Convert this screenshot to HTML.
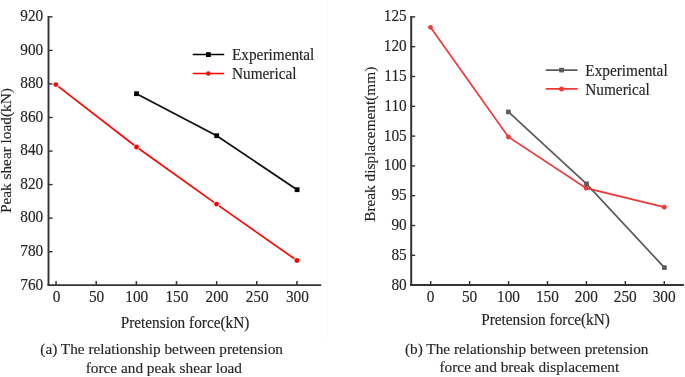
<!DOCTYPE html>
<html><head><meta charset="utf-8"><style>
html,body{margin:0;padding:0;background:#fff;width:685px;height:377px;overflow:hidden}
svg{display:block;filter:blur(0.3px)}
text{font-family:"Liberation Serif",serif;font-size:15.3px;fill:#262626;stroke:#262626;stroke-width:0.15px}
</style></head><body>
<svg width="685" height="377" viewBox="0 0 685 377">
<rect width="685" height="377" fill="#fff"/>
<rect x="327" y="0" width="1" height="338" fill="#f9f9f9"/>
<line x1="48.5" y1="16" x2="48.5" y2="286.1" stroke="#333" stroke-width="1.9"/>
<line x1="47.55" y1="285.1" x2="321.2" y2="285.1" stroke="#333" stroke-width="1.9"/>
<line x1="48.5" y1="16.85" x2="52.6" y2="16.85" stroke="#333" stroke-width="1.4"/>
<text transform="translate(43.20,21.15) scale(1,1.03)" text-anchor="end">920</text>
<line x1="48.5" y1="50.40" x2="52.6" y2="50.40" stroke="#333" stroke-width="1.4"/>
<text transform="translate(43.20,54.70) scale(1,1.03)" text-anchor="end">900</text>
<line x1="48.5" y1="83.95" x2="52.6" y2="83.95" stroke="#333" stroke-width="1.4"/>
<text transform="translate(43.20,88.25) scale(1,1.03)" text-anchor="end">880</text>
<line x1="48.5" y1="117.50" x2="52.6" y2="117.50" stroke="#333" stroke-width="1.4"/>
<text transform="translate(43.20,121.80) scale(1,1.03)" text-anchor="end">860</text>
<line x1="48.5" y1="151.05" x2="52.6" y2="151.05" stroke="#333" stroke-width="1.4"/>
<text transform="translate(43.20,155.35) scale(1,1.03)" text-anchor="end">840</text>
<line x1="48.5" y1="184.60" x2="52.6" y2="184.60" stroke="#333" stroke-width="1.4"/>
<text transform="translate(43.20,188.90) scale(1,1.03)" text-anchor="end">820</text>
<line x1="48.5" y1="218.15" x2="52.6" y2="218.15" stroke="#333" stroke-width="1.4"/>
<text transform="translate(43.20,222.45) scale(1,1.03)" text-anchor="end">800</text>
<line x1="48.5" y1="251.70" x2="52.6" y2="251.70" stroke="#333" stroke-width="1.4"/>
<text transform="translate(43.20,256.00) scale(1,1.03)" text-anchor="end">780</text>
<text transform="translate(43.20,289.55) scale(1,1.03)" text-anchor="end">760</text>
<line x1="56.05" y1="285.1" x2="56.05" y2="281.1" stroke="#333" stroke-width="1.5"/>
<text transform="translate(56.45,301.90) scale(1,1.03)" text-anchor="middle">0</text>
<line x1="96.20" y1="285.1" x2="96.20" y2="281.1" stroke="#333" stroke-width="1.5"/>
<text transform="translate(96.60,301.90) scale(1,1.03)" text-anchor="middle">50</text>
<line x1="136.35" y1="285.1" x2="136.35" y2="281.1" stroke="#333" stroke-width="1.5"/>
<text transform="translate(136.75,301.90) scale(1,1.03)" text-anchor="middle">100</text>
<line x1="176.50" y1="285.1" x2="176.50" y2="281.1" stroke="#333" stroke-width="1.5"/>
<text transform="translate(176.90,301.90) scale(1,1.03)" text-anchor="middle">150</text>
<line x1="216.65" y1="285.1" x2="216.65" y2="281.1" stroke="#333" stroke-width="1.5"/>
<text transform="translate(217.05,301.90) scale(1,1.03)" text-anchor="middle">200</text>
<line x1="256.80" y1="285.1" x2="256.80" y2="281.1" stroke="#333" stroke-width="1.5"/>
<text transform="translate(257.20,301.90) scale(1,1.03)" text-anchor="middle">250</text>
<line x1="296.95" y1="285.1" x2="296.95" y2="281.1" stroke="#333" stroke-width="1.5"/>
<text transform="translate(297.35,301.90) scale(1,1.03)" text-anchor="middle">300</text>
<polyline fill="none" stroke="#111" stroke-width="1.8" points="136.5,93.7 216.7,135.7 297.1,189.7"/>
<rect x="134.1" y="91.3" width="4.8" height="4.8" fill="#000"/>
<rect x="214.29999999999998" y="133.29999999999998" width="4.8" height="4.8" fill="#000"/>
<rect x="294.70000000000005" y="187.29999999999998" width="4.8" height="4.8" fill="#000"/>
<polyline fill="none" stroke="#ff0000" stroke-width="1.65" points="55.9,84.6 136.5,147.0 216.5,204.1 296.9,260.5"/>
<circle cx="55.9" cy="84.6" r="3.1" fill="#fff"/>
<circle cx="55.9" cy="84.6" r="2.45" fill="#ff0000"/>
<circle cx="136.5" cy="147.0" r="3.1" fill="#fff"/>
<circle cx="136.5" cy="147.0" r="2.45" fill="#ff0000"/>
<circle cx="216.5" cy="204.1" r="3.1" fill="#fff"/>
<circle cx="216.5" cy="204.1" r="2.45" fill="#ff0000"/>
<circle cx="296.9" cy="260.5" r="3.1" fill="#fff"/>
<circle cx="296.9" cy="260.5" r="2.45" fill="#ff0000"/>
<line x1="192.7" y1="54.6" x2="224.2" y2="54.6" stroke="#000" stroke-width="1.5"/>
<rect x="206.0" y="52.2" width="4.8" height="4.8" fill="#000"/>
<line x1="192.7" y1="73.5" x2="224.2" y2="73.5" stroke="#ff0000" stroke-width="1.5"/>
<circle cx="208.3" cy="73.5" r="2.3" fill="#ff0000"/>
<text transform="translate(232.00,60.00) scale(1,1.03)" font-size="15.2">Experimental</text>
<text transform="translate(232.00,79.40) scale(1,1.03)" font-size="15.2">Numerical</text>
<text transform="translate(185.00,327.50) scale(1,1.03)" text-anchor="middle">Pretension force(kN)</text>
<text transform="translate(11.40,150.60) rotate(-90) scale(1,1.0)" text-anchor="middle">Peak shear load(kN)</text>
<text transform="translate(40.30,353.70) scale(1,1.0)">(a) The relationship between pretension</text>
<text transform="translate(85.70,372.60) scale(1,1.0)">force and peak shear load</text>
<line x1="411.2" y1="16" x2="411.2" y2="286.0" stroke="#333" stroke-width="2"/>
<line x1="410.2" y1="285.0" x2="683.9" y2="285.0" stroke="#333" stroke-width="2"/>
<line x1="411.2" y1="16.90" x2="415.2" y2="16.90" stroke="#333" stroke-width="1.4"/>
<text transform="translate(406.70,21.40) scale(1,1.03)" text-anchor="end">125</text>
<line x1="411.2" y1="46.70" x2="415.2" y2="46.70" stroke="#333" stroke-width="1.4"/>
<text transform="translate(406.70,51.20) scale(1,1.03)" text-anchor="end">120</text>
<line x1="411.2" y1="76.50" x2="415.2" y2="76.50" stroke="#333" stroke-width="1.4"/>
<text transform="translate(406.70,81.00) scale(1,1.03)" text-anchor="end">115</text>
<line x1="411.2" y1="106.30" x2="415.2" y2="106.30" stroke="#333" stroke-width="1.4"/>
<text transform="translate(406.70,110.80) scale(1,1.03)" text-anchor="end">110</text>
<line x1="411.2" y1="136.10" x2="415.2" y2="136.10" stroke="#333" stroke-width="1.4"/>
<text transform="translate(406.70,140.60) scale(1,1.03)" text-anchor="end">105</text>
<line x1="411.2" y1="165.90" x2="415.2" y2="165.90" stroke="#333" stroke-width="1.4"/>
<text transform="translate(406.70,170.40) scale(1,1.03)" text-anchor="end">100</text>
<line x1="411.2" y1="195.70" x2="415.2" y2="195.70" stroke="#333" stroke-width="1.4"/>
<text transform="translate(406.70,200.20) scale(1,1.03)" text-anchor="end">95</text>
<line x1="411.2" y1="225.50" x2="415.2" y2="225.50" stroke="#333" stroke-width="1.4"/>
<text transform="translate(406.70,230.00) scale(1,1.03)" text-anchor="end">90</text>
<line x1="411.2" y1="255.30" x2="415.2" y2="255.30" stroke="#333" stroke-width="1.4"/>
<text transform="translate(406.70,259.80) scale(1,1.03)" text-anchor="end">85</text>
<text transform="translate(406.70,289.60) scale(1,1.03)" text-anchor="end">80</text>
<line x1="430.70" y1="285.0" x2="430.70" y2="281.1" stroke="#333" stroke-width="1.5"/>
<text transform="translate(430.60,301.90) scale(1,1.03)" text-anchor="middle">0</text>
<line x1="469.63" y1="285.0" x2="469.63" y2="281.1" stroke="#333" stroke-width="1.5"/>
<text transform="translate(469.53,301.90) scale(1,1.03)" text-anchor="middle">50</text>
<line x1="508.56" y1="285.0" x2="508.56" y2="281.1" stroke="#333" stroke-width="1.5"/>
<text transform="translate(508.46,301.90) scale(1,1.03)" text-anchor="middle">100</text>
<line x1="547.49" y1="285.0" x2="547.49" y2="281.1" stroke="#333" stroke-width="1.5"/>
<text transform="translate(547.39,301.90) scale(1,1.03)" text-anchor="middle">150</text>
<line x1="586.42" y1="285.0" x2="586.42" y2="281.1" stroke="#333" stroke-width="1.5"/>
<text transform="translate(586.32,301.90) scale(1,1.03)" text-anchor="middle">200</text>
<line x1="625.35" y1="285.0" x2="625.35" y2="281.1" stroke="#333" stroke-width="1.5"/>
<text transform="translate(625.25,301.90) scale(1,1.03)" text-anchor="middle">250</text>
<line x1="664.28" y1="285.0" x2="664.28" y2="281.1" stroke="#333" stroke-width="1.5"/>
<text transform="translate(664.18,301.90) scale(1,1.03)" text-anchor="middle">300</text>
<polyline fill="none" stroke="#5a5a5a" stroke-width="1.7" points="508.4,111.9 586.5,183.8 664.4,267.6"/>
<rect x="506.09999999999997" y="109.60000000000001" width="4.6" height="4.6" fill="#5a5a5a"/>
<rect x="584.2" y="181.5" width="4.6" height="4.6" fill="#5a5a5a"/>
<rect x="662.1" y="265.3" width="4.6" height="4.6" fill="#5a5a5a"/>
<polyline fill="none" stroke="#ee3838" stroke-width="1.7" points="430.5,27.3 508.4,137.0 586.2,188.2 664.3,207.2"/>
<circle cx="430.5" cy="27.3" r="2.4" fill="#ee3838"/>
<circle cx="508.4" cy="137.0" r="2.4" fill="#ee3838"/>
<circle cx="586.2" cy="188.2" r="2.4" fill="#ee3838"/>
<circle cx="664.3" cy="207.2" r="2.4" fill="#ee3838"/>
<line x1="545.8" y1="70.1" x2="577.6" y2="70.1" stroke="#5a5a5a" stroke-width="1.6"/>
<rect x="559.2" y="67.8" width="4.8" height="4.6" fill="#5a5a5a"/>
<line x1="545.8" y1="88.9" x2="577.6" y2="88.9" stroke="#ee3838" stroke-width="1.6"/>
<circle cx="561.6" cy="88.9" r="2.5" fill="#ee3838"/>
<text transform="translate(585.30,75.80) scale(1,1.03)" font-size="15.2">Experimental</text>
<text transform="translate(585.30,94.80) scale(1,1.03)" font-size="15.2">Numerical</text>
<text transform="translate(545.50,324.80) scale(1,1.03)" text-anchor="middle">Pretension force(kN)</text>
<text transform="translate(375.20,144.30) rotate(-90) scale(1,1.0)" text-anchor="middle">Break displacement(mm)</text>
<text transform="translate(404.90,354.00) scale(1,1.0)">(b) The relationship between pretension</text>
<text transform="translate(439.50,372.20) scale(1,1.0)">force and break displacement</text>
</svg>
</body></html>
